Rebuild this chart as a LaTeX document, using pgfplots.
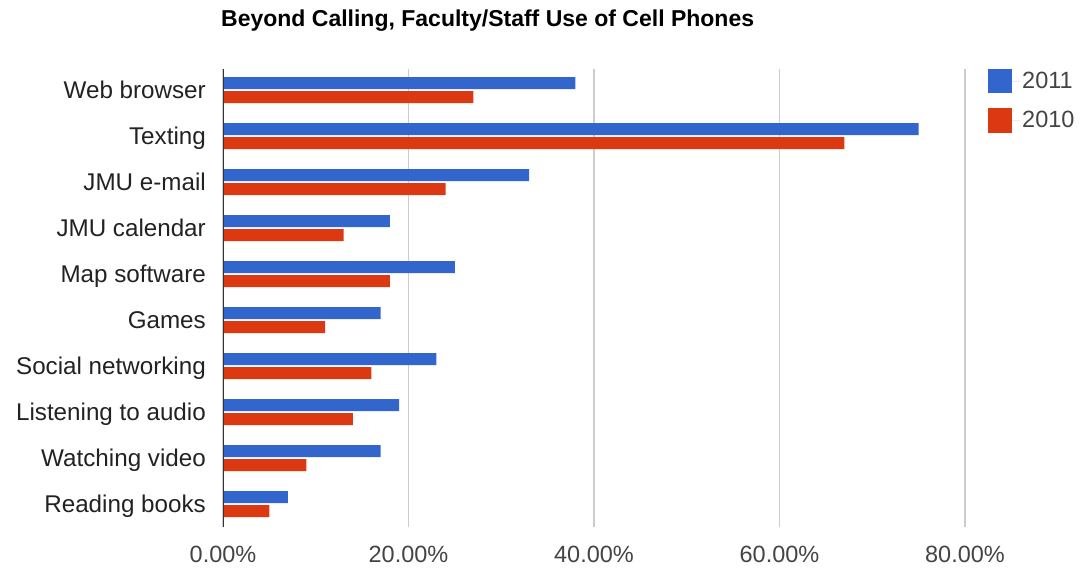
\documentclass[border=0pt]{standalone}
\usepackage{fontspec}
\setmainfont{Liberation Sans}
\usepackage{pgfplots}
\pgfplotsset{compat=1.18}

\definecolor{gblue}{HTML}{3366CC}
\definecolor{gred}{HTML}{DC3912}
\definecolor{gridgray}{HTML}{CCCCCC}
\definecolor{axisdark}{HTML}{333333}
\definecolor{labelgray}{HTML}{222222}
\definecolor{tickgray}{HTML}{444444}

\newcommand{\chartfont}{\fontsize{23.5bp}{28bp}\selectfont}
\newcommand{\catfont}{\fontsize{24.2bp}{28bp}\selectfont}

\begin{document}
\begin{tikzpicture}
\useasboundingbox (0,0) rectangle (1082bp,571bp);
\begin{axis}[
  at={(223bp,44bp)}, anchor=south west,
  scale only axis, width=742bp, height=458bp,
  xbar, bar width=12bp,
  xmin=0, xmax=80, ymin=-0.46, ymax=9.5,
  y dir=reverse,
  ytick={0,...,9},
  yticklabels={Web browser, Texting, JMU e-mail, JMU calendar, Map software, Games, Social networking, Listening to audio, Watching video, Reading books},
  xtick={0,20,40,60,80},
  xticklabels={0.00\%,20.00\%,40.00\%,60.00\%,80.00\%},
  xmajorgrids,
  major grid style={color=gridgray, line width=1.5bp},
  axis line style={draw=none},
  tick style={draw=none},
  major tick length=0pt,
  yticklabel style={font=\catfont, text=labelgray, inner sep=0pt, anchor=base east, xshift=-17bp, yshift=-8.5bp},
  xticklabel style={font=\chartfont, text=tickgray, inner sep=0pt, anchor=base, yshift=-35.7bp},
  title={Beyond Calling, Faculty/Staff Use of Cell Phones},
  title style={font=\bfseries\fontsize{23bp}{27bp}\selectfont, at={(0,1)}, anchor=base west, xshift=-2bp, yshift=37bp, inner sep=0pt},
  legend style={at={(1,1)}, anchor=north west, xshift=23bp, draw=none, fill=none, inner sep=0pt, row sep=15.3bp, font=\chartfont, text=tickgray},
  legend cell align=left,
  legend image code/.code={\fill[#1, draw=none] (0bp,-12bp) rectangle (24bp,12bp);
    \path (24bp,0bp) -- (32bp,0bp);},
]
% 2011 survey (upper bar of each pair)
\addplot[fill=gblue, draw=none, bar shift=7bp] coordinates {
  (38,0) (75,1) (33,2) (18,3) (25,4) (17,5) (23,6) (19,7) (17,8) (7,9)};
% 2010 survey (lower bar of each pair)
\addplot[fill=gred, draw=none, bar shift=-7bp] coordinates {
  (27,0) (67,1) (24,2) (13,3) (18,4) (11,5) (16,6) (14,7) (9,8) (5,9)};
\legend{2011, 2010}
% baseline at zero
\draw[axisdark, line width=2bp] (axis cs:0,-0.46) -- (axis cs:0,9.5);
\end{axis}
\end{tikzpicture}
\end{document}
